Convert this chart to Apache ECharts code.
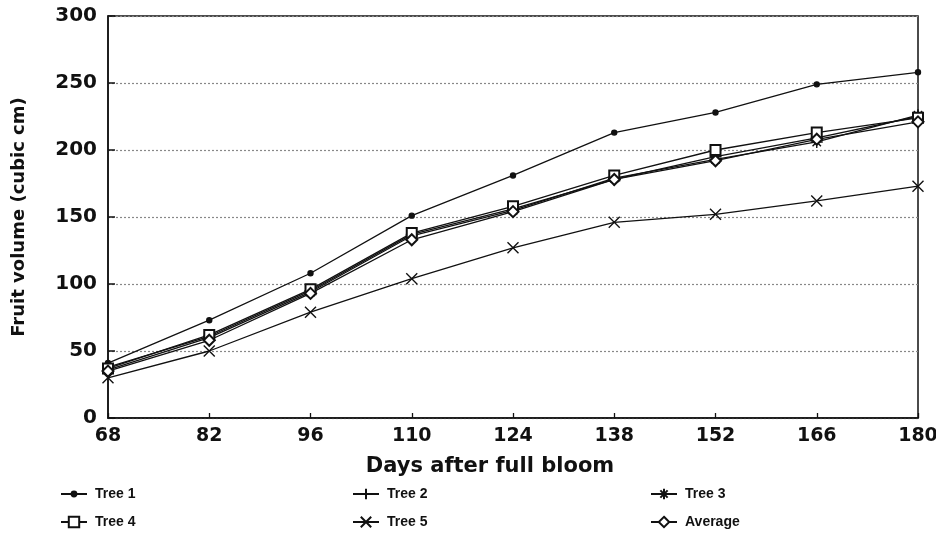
<!DOCTYPE html>
<html>
<head>
<meta charset="utf-8">
<script src="https://cdn.jsdelivr.net/npm/echarts@6/dist/echarts.min.js"></script>
<style>
  html, body { margin: 0; padding: 0; background: #fff; }
  #chart { width: 936px; height: 550px; }
</style>
</head>
<body>
<div id="chart"></div>
<script>
// Days after full bloom (x categories)
const days = ['68', '82', '96', '110', '124', '138', '152', '166', '180'];

// Fruit volume (cubic cm) per tree
const tree1 = [41, 73, 108, 151, 181, 213, 228, 249, 258];
const tree2 = [38, 61, 95, 137, 156, 178, 195, 209, 225];
const tree3 = [36, 60, 94, 136, 155, 179, 193, 206, 226];
const tree4 = [37, 62, 96, 138, 158, 181, 200, 213, 224];
const tree5 = [30, 50, 79, 104, 127, 146, 152, 162, 173];
const average = [35, 58, 93, 133, 154, 178, 192, 208, 221];

const yTicks = [0, 50, 100, 150, 200, 250, 300];

const FONT = '"DejaVu Sans", Verdana, sans-serif';
const LEGEND_FONT = '"Liberation Sans", Arial, sans-serif';
const INK = '#111';

// stroke-only marker shapes
const PLUS = 'path://M0,5L10,5M5,0L5,10';
const CROSS = 'path://M0,0L10,10M10,0L0,10';
const STAR = 'path://M0,5L10,5M5,0L5,10M1.5,1.5L8.5,8.5M8.5,1.5L1.5,8.5';

function series(name, data, symbol, size) {
  return {
    name: name,
    type: 'line',
    data: data,
    symbol: symbol,
    symbolSize: size,
    showSymbol: true,
    animation: false,
    lineStyle: { color: INK, width: 1.3 },
    itemStyle: { color: INK, borderColor: INK, borderWidth: 1.4 },
    emphasis: { disabled: true }
  };
}

function legendAt(name, left, top, iconH) {
  return {
    data: [name],
    left: left,
    top: top,
    itemWidth: 26,
    itemHeight: iconH,
    selectedMode: false,
    textStyle: { fontFamily: LEGEND_FONT, fontWeight: 'bold', fontSize: 14, color: INK, padding: [0, 0, 0, 3] }
  };
}

const chart = echarts.init(document.getElementById('chart'), null, { renderer: 'canvas' });

chart.setOption({
  backgroundColor: '#fff',
  animation: false,
  grid: {
    left: 108, right: 18, top: 16, bottom: 132,
    outerBoundsMode: 'none',
    show: true, borderColor: INK, borderWidth: 1.5, backgroundColor: 'transparent'
  },
  legend: [
    legendAt('Tree 1', 55, 482, 6),
    legendAt('Tree 2', 347, 482, 13),
    legendAt('Tree 3', 645, 482, 13),
    legendAt('Tree 4', 55, 510, 13),
    legendAt('Tree 5', 347, 510, 13),
    legendAt('Average', 645, 510, 13)
  ],
  xAxis: {
    type: 'category',
    data: days,
    boundaryGap: false,
    name: 'Days after full bloom',
    nameLocation: 'middle',
    nameGap: 38,
    nameTextStyle: { fontFamily: FONT, fontWeight: 'bold', fontSize: 21, color: INK, padding: [0, 46, 0, 0] },
    axisLine: { lineStyle: { color: INK, width: 1.5 } },
    axisTick: { inside: true, length: 5, alignWithLabel: true, lineStyle: { color: INK, width: 1.3 } },
    axisLabel: { fontFamily: FONT, fontWeight: 'bold', fontSize: 19, color: INK, margin: 9, showMaxLabel: true, showMinLabel: true },
    splitLine: { show: false }
  },
  yAxis: {
    type: 'value',
    min: yTicks[0],
    max: yTicks[yTicks.length - 1],
    interval: yTicks[1] - yTicks[0],
    name: 'Fruit volume (cubic cm)',
    nameLocation: 'middle',
    nameRotate: 90,
    nameGap: 80,
    nameTextStyle: { fontFamily: FONT, fontWeight: 'bold', fontSize: 18, color: INK },
    axisLine: { show: true, lineStyle: { color: INK, width: 1.5 } },
    axisTick: { show: true, inside: true, length: 7, lineStyle: { color: INK, width: 1.5 } },
    axisLabel: { fontFamily: FONT, fontWeight: 'bold', fontSize: 20, color: INK, margin: 11 },
    splitLine: { show: true, lineStyle: { color: '#888', width: 1.2, type: [2, 2] } }
  },
  series: [
    series('Tree 1', tree1, 'circle', 5),
    series('Tree 2', tree2, PLUS, 12),
    series('Tree 3', tree3, STAR, 12),
    series('Tree 4', tree4, 'emptyRect', 10),
    series('Tree 5', tree5, CROSS, 11),
    series('Average', average, 'emptyDiamond', 11)
  ]
});
</script>
</body>
</html>
